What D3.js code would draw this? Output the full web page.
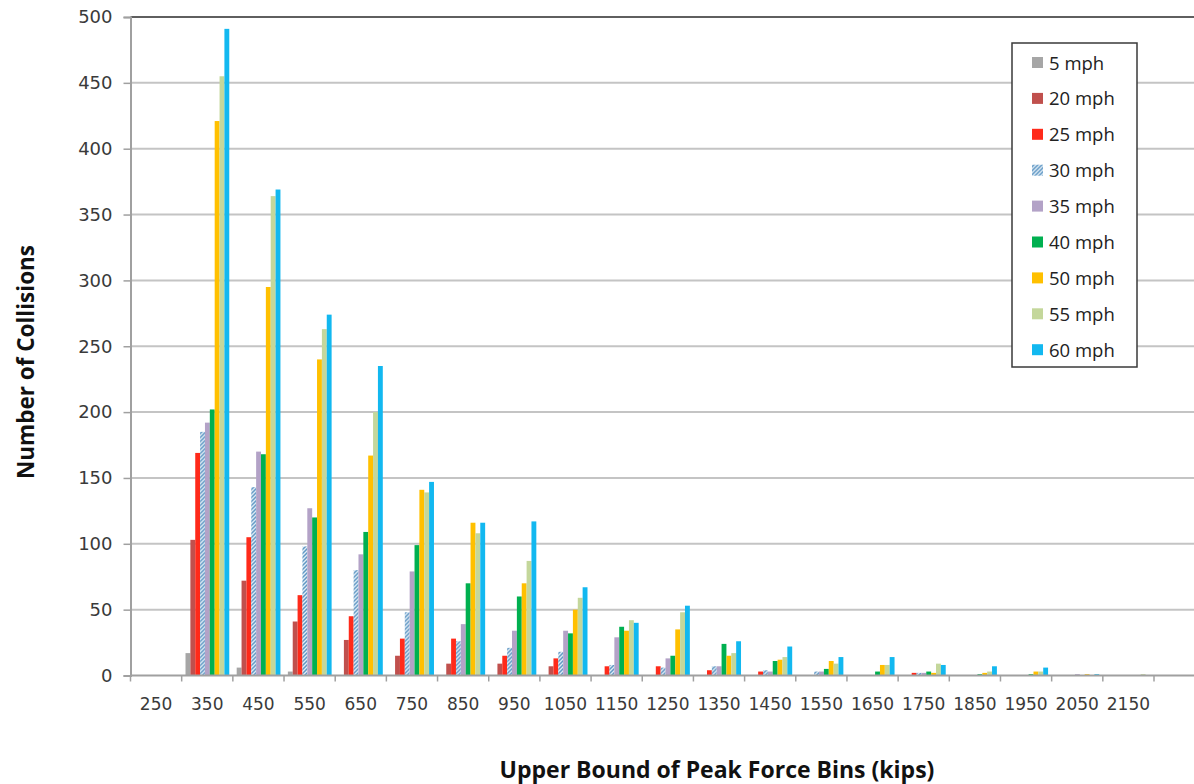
<!DOCTYPE html>
<html>
<head>
<meta charset="utf-8">
<script src="https://cdn.jsdelivr.net/npm/d3@7"></script>
<style>
    body { margin: 0; background: #fff; }
    .tick text { fill: #3a3a3a; }
</style>
</head>
<body>
<script>
// bins and speeds
var bins = ["250", "350", "450", "550", "650", "750", "850", "950", "1050", "1150",
    "1250", "1350", "1450", "1550", "1650", "1750", "1850", "1950", "2050", "2150"];
var speeds = ["5 mph", "20 mph", "25 mph", "30 mph", "35 mph", "40 mph", "50 mph", "55 mph", "60 mph"];
var yTicks = [0, 50, 100, 150, 200, 250, 300, 350, 400, 450, 500];

// counts per speed, one value per bin
var mph5  = [0, 17, 6, 3, 0, 0, 0, 0, 0, 0, 0, 0, 0, 0, 0, 0, 0, 0, 0, 0];
var mph20 = [0, 103, 72, 41, 27, 15, 9, 9, 7, 0, 0, 0, 0, 0, 0, 0, 0, 0, 0, 0];
var mph25 = [0, 169, 105, 61, 45, 28, 28, 15, 13, 7, 7, 4, 3, 0, 0, 2, 0, 0, 0, 0];
var mph30 = [0, 185, 143, 98, 80, 48, 26, 21, 18, 8, 6, 7, 4, 3, 0, 2, 0, 0, 0, 0];
var mph35 = [0, 192, 170, 127, 92, 79, 39, 34, 34, 29, 13, 7, 3, 3, 0, 2, 0, 0, 1, 0];
var mph40 = [0, 202, 168, 120, 109, 99, 70, 60, 32, 37, 15, 24, 11, 5, 3, 3, 1, 1, 0, 0];
var mph50 = [0, 421, 295, 240, 167, 141, 116, 70, 50, 34, 35, 15, 12, 11, 8, 2, 2, 3, 1, 0];
var mph55 = [0, 455, 364, 263, 200, 139, 108, 87, 59, 42, 48, 17, 14, 9, 8, 9, 3, 3, 0, 1];
var mph60 = [0, 491, 369, 274, 235, 147, 116, 117, 67, 40, 53, 26, 22, 14, 14, 8, 7, 6, 1, 0];

var seriesValues = [mph5, mph20, mph25, mph30, mph35, mph40, mph50, mph55, mph60];
var colors = ["#a6a6a6", "#c0504d", "#ff2a1a", "url(#hatch)", "#b3a2c7", "#00b050", "#ffc000", "#c4d79b", "#12b8f0"];

var width = 1194,
    height = 784;

var svg = d3.select("body").append("svg")
    .attr("width", width)
    .attr("height", height);

// hatched fill for 30 mph
var pat = svg.append("defs").append("pattern")
    .attr("id", "hatch")
    .attr("patternUnits", "userSpaceOnUse")
    .attr("width", 4)
    .attr("height", 4);
pat.append("rect").attr("width", 4).attr("height", 4).attr("fill", "#e4eff7");
pat.append("path")
    .attr("d", "M-1,5 L5,-1 M-1,1 L1,-1 M3,5 L5,3")
    .attr("stroke", "#5f97c4")
    .attr("stroke-width", 1.5);

var plotLeft = 130.5, plotRight = 1154, plotTop = 17, plotBottom = 675.5;

var x0 = d3.scaleBand()
    .domain(bins)
    .range([plotLeft, plotRight]);

var x1 = d3.scaleBand()
    .domain(speeds)
    .range([x0.bandwidth() * 0.075, x0.bandwidth() * 0.93]);

var y = d3.scaleLinear()
    .domain([0, 500])
    .range([plotBottom, plotTop]);

// gridlines
svg.append("g")
    .selectAll("line")
    .data(yTicks.slice(1))
    .enter().append("line")
    .attr("x1", plotLeft)
    .attr("x2", width)
    .attr("y1", function (d) { return y(d); })
    .attr("y2", function (d) { return y(d); })
    .attr("stroke", function (d) { return d == 500 ? "#2a2a2a" : "#c4c4c4"; })
    .attr("stroke-width", function (d) { return d == 500 ? 1.5 : 2; });

// bars
var groups = svg.append("g")
    .selectAll("g")
    .data(bins)
    .enter().append("g")
    .attr("transform", function (d) { return "translate(" + x0(d) + ",0)"; });

groups.selectAll("rect")
    .data(function (b, i) {
        return speeds.map(function (s, j) { return { speed: s, value: seriesValues[j][i], c: colors[j] }; });
    })
    .enter().append("rect")
    .attr("x", function (d) { return x1(d.speed); })
    .attr("width", x1.bandwidth())
    .attr("y", function (d) { return y(d.value); })
    .attr("height", function (d) { return y(0) - y(d.value); })
    .attr("fill", function (d) { return d.c; });

// y axis
var yAxis = svg.append("g")
    .attr("transform", "translate(" + plotLeft + ",0)")
    .call(d3.axisLeft(y).tickValues(yTicks).tickSize(7).tickPadding(11));
yAxis.select(".domain").attr("stroke", "#a0a0a0").attr("stroke-width", 2);
yAxis.selectAll(".tick line").attr("stroke", "#a0a0a0").attr("stroke-width", 1.5);
yAxis.selectAll(".tick text")
    .attr("font-family", "DejaVu Sans, Verdana, sans-serif")
    .attr("font-size", 18);

// x axis line and boundary ticks
svg.append("line")
    .attr("x1", plotLeft)
    .attr("x2", width)
    .attr("y1", plotBottom)
    .attr("y2", plotBottom)
    .attr("stroke", "#a0a0a0")
    .attr("stroke-width", 2);

svg.append("g")
    .selectAll("line")
    .data(bins.concat(["end"]))
    .enter().append("line")
    .attr("x1", function (d, i) { return plotLeft + i * x0.step(); })
    .attr("x2", function (d, i) { return plotLeft + i * x0.step(); })
    .attr("y1", plotBottom)
    .attr("y2", plotBottom + 6)
    .attr("stroke", "#a0a0a0")
    .attr("stroke-width", 1.5);

svg.append("g")
    .selectAll("text")
    .data(bins)
    .enter().append("text")
    .attr("x", function (d) { return x0(d) + x0.bandwidth() / 2; })
    .attr("y", 710)
    .attr("text-anchor", "middle")
    .attr("font-family", "DejaVu Sans, Verdana, sans-serif")
    .attr("font-size", 17)
    .attr("fill", "#3a3a3a")
    .text(function (d) { return d; });

// axis titles
svg.append("text")
    .attr("transform", "translate(34,362) rotate(-90)")
    .attr("text-anchor", "middle")
    .attr("font-family", "Open Sans, sans-serif")
    .attr("font-weight", "bold")
    .attr("font-size", 22.5)
    .attr("fill", "#111")
    .text("Number of Collisions");

svg.append("text")
    .attr("x", 717)
    .attr("y", 778)
    .attr("text-anchor", "middle")
    .attr("font-family", "Open Sans, sans-serif")
    .attr("font-weight", "bold")
    .attr("font-size", 23)
    .attr("fill", "#111")
    .text("Upper Bound of Peak Force Bins (kips)");

// legend
var legend = svg.append("g")
    .attr("transform", "translate(1012,43)");

legend.append("rect")
    .attr("width", 125)
    .attr("height", 324)
    .attr("fill", "#fff")
    .attr("stroke", "#3a3a3a")
    .attr("stroke-width", 1.5);

var rows = legend.selectAll("g")
    .data(speeds)
    .enter().append("g")
    .attr("transform", function (d, i) { return "translate(0," + (20 + i * 35.9) + ")"; });

rows.append("rect")
    .attr("x", 20)
    .attr("y", -6)
    .attr("width", 11)
    .attr("height", 11)
    .attr("fill", function (d, i) { return colors[i]; });

rows.append("text")
    .attr("x", 37)
    .attr("y", 6.5)
    .attr("font-family", "Open Sans, sans-serif")
    .attr("font-size", 18.5)
    .attr("fill", "#222")
    .text(function (d) { return d; });
</script>
</body>
</html>
